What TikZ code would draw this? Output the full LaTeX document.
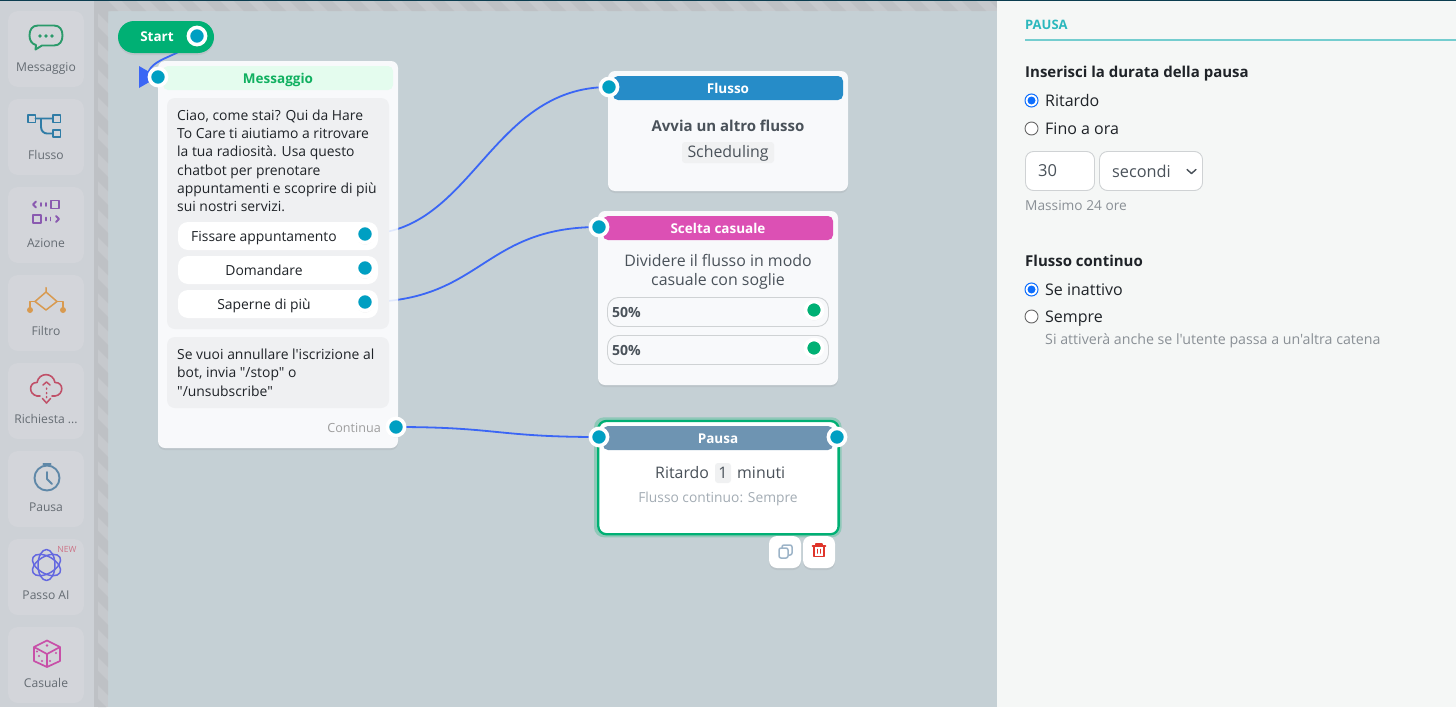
\documentclass[tikz,border=0pt]{standalone}
\usepackage{fontspec}
\setmainfont{Open Sans}[Ligatures=TeXOff]
\usetikzlibrary{shadows,calc}
\pgfdeclarelayer{bg}\pgfdeclarelayer{edges}\pgfdeclarelayer{cards}\pgfdeclarelayer{pale}
\pgfsetlayers{bg,edges,cards,pale,main}
\definecolor{canvas}{HTML}{C5D0D5}
\definecolor{side}{HTML}{CDD1D6}
\definecolor{sidebtn}{HTML}{D3D5DA}
\definecolor{stripeA}{HTML}{C6C9CD}
\definecolor{stripeB}{HTML}{BEC1C5}
\definecolor{panel}{HTML}{F5F7F6}
\definecolor{cardc}{HTML}{F8F9FB}
\definecolor{greyb}{HTML}{EFF0F2}
\definecolor{teal1}{HTML}{009FC2}
\definecolor{grn}{HTML}{00B074}
\definecolor{edgec}{HTML}{3B66F5}
\definecolor{palee}{HTML}{DFE7FC}
\definecolor{txt}{HTML}{1F2328}
\definecolor{txtb}{HTML}{4A525A}
\definecolor{mute}{HTML}{8A9096}
\definecolor{tagc}{HTML}{F0F1F2}
\definecolor{brd}{HTML}{CFD2D4}
\definecolor{radb}{HTML}{0D6EFD}
\definecolor{icgreen}{HTML}{2A9A6A}
\definecolor{icblue}{HTML}{2F7CA6}
\definecolor{icpurple}{HTML}{8A5AB0}
\definecolor{icorange}{HTML}{D89A50}
\definecolor{icred}{HTML}{C05068}
\definecolor{icclock}{HTML}{5F88A8}
\definecolor{icai}{HTML}{6468E0}
\definecolor{icpink}{HTML}{C850A8}
\definecolor{HTMLblue}{HTML}{268CC8}
\definecolor{HTMLpink}{HTML}{DC50B4}
\definecolor{HTMLslate}{HTML}{6E94B2}
\definecolor{mhdr}{HTML}{E4FCEE}
\definecolor{mtxt}{HTML}{10B060}
\definecolor{pausetxt}{HTML}{2BB8BD}
\definecolor{pauseline}{HTML}{74CDCF}
\definecolor{ptxt}{HTML}{A3ACB4}
\definecolor{trash}{HTML}{E0352B}
\definecolor{copyc}{HTML}{9DB4C8}
\definecolor{halo}{HTML}{8FC8B8}
\definecolor{topbar}{HTML}{0B3D50}
\newcommand\fsz[1]{\fontsize{#1}{#1}\selectfont}
% name, x1, y1, x2, y2, style
\newcommand\boxn[6]{\node[box,#6,minimum width={(#4-#2)*1pt},minimum height={(#5-#3)*1pt}] (#1) at ({(#2+#4)/2},{(#3+#5)/2}) {};}
\tikzset{
 box/.style={rectangle,inner sep=0,outer sep=0,line width=0},
 softshadow/.style={drop shadow={opacity=.14,shadow xshift=0pt,shadow yshift=-2pt,shadow scale=1.0}},
 port/.style={circle,inner sep=0,minimum size=17.2pt,fill=teal1,draw=white,line width=3.6pt},
 gport/.style={circle,inner sep=0,minimum size=17pt,fill=grn,draw=white,line width=3.6pt,softshadow},
 tx/.style={inner sep=0,anchor=base west,text=txt},
 tc/.style={inner sep=0,anchor=base,text=txt},
 conn/.style={draw=edgec,line width=1.8pt},
 palec/.style={draw=palee,line width=1.6pt},
 sbl/.style={inner sep=0,anchor=base,text=txtb!85!white,font=\fsz{12.1}},
 ic/.style={line width=1.9pt,line cap=round,line join=round,fill=none},
 rad/.style={circle,inner sep=0,minimum size=13pt,draw=black!60,fill=white,line width=.9pt},
 radon/.style={circle,inner sep=0,minimum size=13pt,draw=radb,fill=white,line width=1pt},
 raddot/.style={circle,inner sep=0,minimum size=8pt,fill=radb},
 hdr/.style={rounded corners=5pt},
 whead/.style={tc,text=white,font=\fsz{13.5}\bfseries},
 body/.style={font=\fsz{13.9}},
 card/.style={font=\fsz{15.9},text=txtb},
 panelt/.style={tx,font=\fsz{16}},
 panelh/.style={tx,font=\fsz{15}\bfseries},
}
\begin{document}
\begin{tikzpicture}[x=1pt,y=-1pt]
\useasboundingbox (0,0) rectangle (1456,707);
\begin{pgfonlayer}{bg}
\fill[side] (0,0) rectangle (94,707);
\fill[canvas] (94,0) rectangle (997,707);
\fill[stripeA] (94,0) rectangle (108,707);
\fill[stripeA] (94,0) rectangle (997,11);
\begin{scope}
\clip (98,0) rectangle (108,707) (108,0) rectangle (997,11);
\foreach \k in {0,1,...,32}{\draw[stripeB,line width=10pt] ({96+\k*28},-4) -- ({116+\k*28},16);}
\foreach \k in {0,1,...,26}{\draw[stripeB,line width=10pt] (92,{\k*28}) -- (114,{\k*28+22});}
\end{scope}
\fill[stripeB] (94,0) rectangle (98,707);
\fill[panel] (997,0) rectangle (1456,707);
\fill[topbar] (0,0) rectangle (1456,1.2);
% sidebar buttons
\foreach \n/\y in {a/11,b/99,c/187,d/275,e/363,f/451,g/539,h/627}{
 \boxn{btn\n}{8}{\y}{84}{\y+76}{fill=sidebtn,rounded corners=10pt}
}
\end{pgfonlayer}
% sidebar labels
\node[sbl] (la) at (46,71) {Messaggio};
\node[sbl] (lb) at (46,159) {Flusso};
\node[sbl] (lc) at (46,247) {Azione};
\node[sbl] (ld) at (46,335) {Filtro};
\node[sbl] (le) at (46,423) {Richiesta ...};
\node[sbl] (lf) at (46,511) {Pausa};
\node[sbl] (lg) at (46,599) {Passo AI};
\node[sbl] (lh) at (46,687) {Casuale};
\node[inner sep=0,anchor=base,text=icred!80!white,font=\fsz{8.5}] (lnew) at (67,552) {NEW};
% icons
\draw[ic,icgreen] (36,45) -- (35.5,49.5) -- (42,45.5) -- (54,45.5) .. controls (60,45.5) and (62.5,41) .. (62.5,35.5) .. controls (62.5,30) and (60,25.5) .. (54,25.5) -- (38,25.5) .. controls (32,25.5) and (29.5,30) .. (29.5,35.5) .. controls (29.5,40) and (31.5,44) .. (36,45);
\foreach \x in {40,46,52}{\fill[icgreen] (\x,36) circle (1.8);}
\draw[ic,icblue] (28,115) rectangle (35.5,122.5) (53,115) rectangle (60.5,122.5) (53,130) rectangle (60.5,137);
\draw[ic,icblue] (35.5,118.5) -- (53,118.5) (41,118.5) -- (41,127) .. controls (41,131) and (44,133.5) .. (47,133.5) -- (53,133.5);
\draw[ic,icpurple] (51,200.5) rectangle (59,208.5) (33,215) rectangle (41,223);
\draw[ic,icpurple] (36,201.5) -- (33,204.5) -- (36,207.5) (56,216) -- (59,219) -- (56,222);
\draw[ic,icpurple] (41,203) -- (41,206) (46,203) -- (46,206) (46,217.5) -- (46,220.5) (50.5,217.5) -- (50.5,220.5);
\draw[ic,icorange,line width=1.5pt] (46,287.5) -- (46,292) -- (35,301.5) -- (46,310) -- (57,301.5) -- (46,292);
\draw[ic,icorange,line width=1.5pt] (35,301.5) -- (30,301.5) -- (30,308) (57,301.5) -- (63,301.5) -- (63,308);
\fill[icorange] (30,310) circle (3) (63,310) circle (3);
\draw[ic,icred,line width=1.6pt] (40,396) -- (37,396) .. controls (28,394) and (29,382) .. (37,382.5) .. controls (39,372) and (53,372) .. (55,382.5) .. controls (64,382) and (64,395) .. (55,396) -- (52,396);
\draw[ic,icred,line width=1.5pt] (43,385) -- (46.5,382) -- (50,385) (42.5,398.5) -- (46.5,403) -- (50.5,398.5) (46.5,388) -- (46.5,389) (46.5,392.5) -- (46.5,393.5) (46.5,396.5) -- (46.5,397.5);
\draw[ic,icclock] (47,478) circle (12.5);
\draw[ic,icclock,line width=2.4pt] (43.5,464) -- (50.5,464);
\draw[ic,icclock] (47,472) -- (47,479) -- (52,484);
\foreach \a in {0,60,120}{\draw[ic,icai,line width=1.5pt,rotate around={\a+30:(46.5,565)}] (46.5,565) ellipse (15.5 and 8.5);}
\draw[ic,icpink,line width=1.7pt] (47,640.5) -- (60,647) -- (60,661) -- (47,667) -- (34,661) -- (34,647) -- cycle (34,647) -- (47,654) -- (60,647) (47,654) -- (47,667);
\fill[icpink] (47,645.5) circle (1.4) (39,656) circle (1.2) (42,661) circle (1.2) (37,651.5) circle (1.2) (50,661) circle (1.2) (56,653) circle (1.2);
% start pill
\boxn{startp}{118}{21}{214}{53}{fill=grn,rounded corners=16pt,softshadow}
\node[whead] (startt) at (157,41) {Start};
\node[port,softshadow] (ps) at (197,36) {};
% message card
\begin{pgfonlayer}{cards}
\boxn{mcard}{158}{61}{398}{448}{fill=cardc,rounded corners=7pt,softshadow}
\boxn{fcard}{608}{71}{848}{191}{fill=cardc,rounded corners=7pt,softshadow}
\boxn{scard}{598}{211}{838}{385}{fill=cardc,rounded corners=7pt,softshadow}
\boxn{phalo}{594}{417.3}{841.7}{537.3}{fill=halo,rounded corners=10pt}
\boxn{pcard}{598.3}{421}{838.6}{534.2}{fill=white,draw=grn,line width=2.3pt,rounded corners=8pt}
\end{pgfonlayer}
\boxn{mhead}{163}{66}{393}{90}{fill=mhdr,hdr}
\node[tc,text=mtxt,font=\fsz{13.5}\bfseries] (mt) at (278,83) {Messaggio};
\boxn{mg1}{167}{98}{389}{329}{fill=greyb,rounded corners=8pt}
\node[tx,body] (m1) at (177,120) {Ciao, come stai? Qui da Hare};
\node[tx,body] (m2) at (177,138) {To Care ti aiutiamo a ritrovare};
\node[tx,body] (m3) at (177,156) {la tua radiosità. Usa questo};
\node[tx,body] (m4) at (177,175) {chatbot per prenotare};
\node[tx,body] (m5) at (177,193) {appuntamenti e scoprire di più};
\node[tx,body] (m6) at (177,211) {sui nostri servizi.};
\boxn{b1}{178}{222}{378}{250}{fill=white,rounded corners=10pt}
\boxn{b2}{178}{256}{378}{284}{fill=white,rounded corners=10pt}
\boxn{b3}{178}{290}{378}{318}{fill=white,rounded corners=10pt}
\node[tc,body] (bt1) at (264,241) {Fissare appuntamento};
\node[tc,body] (bt2) at (264,275) {Domandare};
\node[tc,body] (bt3) at (264,309) {Saperne di più};
\node[port,softshadow] (p1) at (365,234) {};
\node[port,softshadow] (p2) at (365,268) {};
\node[port,softshadow] (p3) at (365,302) {};
\boxn{mg2}{167}{337}{389}{408}{fill=greyb,rounded corners=8pt}
\node[tx,body] (u1) at (177,359) {Se vuoi annullare l'iscrizione al};
\node[tx,body] (u2) at (177,377) {bot, invia "/stop" o};
\node[tx,body] (u3) at (177,396) {"/unsubscribe"};
\node[inner sep=0,anchor=base east,text=black!38,font=\fsz{12.6}] (cont) at (381,432) {Continua};
\node[port,softshadow] (pc) at (396,427) {};
\node[port] (pm) at (158,77) {};
% flusso
\boxn{fhead}{613}{76}{843}{100}{fill=HTMLblue,hdr}
\node[whead] (ft) at (728,93) {Flusso};
\node[tc,text=txtb,font=\fsz{15}\bfseries] (f1) at (728,131) {Avvia un altro flusso};
\boxn{ftag}{682}{142}{774}{163}{fill=tagc,rounded corners=3pt}
\node[tc,card] (f2) at (728,157) {Scheduling};
\node[port] (pf) at (609,87) {};
% scelta
\boxn{shead}{603}{216}{833}{240}{fill=HTMLpink,hdr}
\node[whead] (st) at (718,233) {Scelta casuale};
\node[tc,card] (s1) at (718,266) {Dividere il flusso in modo};
\node[tc,card] (s2) at (718,285) {casuale con soglie};
\boxn{sp1}{607.5}{297.5}{828.5}{326.5}{fill=cardc,draw=brd,line width=.9pt,rounded corners=11pt}
\boxn{sp2}{607.5}{335.5}{828.5}{364.5}{fill=cardc,draw=brd,line width=.9pt,rounded corners=11pt}
\node[tx,text=txtb,font=\fsz{14}\bfseries] (s50a) at (612,317) {50\%};
\node[tx,text=txtb,font=\fsz{14}\bfseries] (s50b) at (612,355) {50\%};
\node[gport] (g1) at (814,310) {};
\node[gport] (g2) at (814,348) {};
\node[port] (ps2) at (599,227) {};
% pausa
\boxn{phead}{603}{426}{833}{450}{fill=HTMLslate,hdr}
\node[whead] (pt) at (718,443) {Pausa};
\boxn{ptag}{715}{463}{731}{483}{fill=tagc,rounded corners=3pt}
\node[tx,card] (p1a) at (655,478) {Ritardo};
\node[tc,card] (p1b) at (723,478) {1};
\node[tx,card] (p1c) at (737,478) {minuti};
\node[tc,text=ptxt,font=\fsz{13.8}] (p2t) at (718,502) {Flusso continuo: Sempre};
\node[port] (pi) at (599,437) {};
\node[port] (po) at (837,437) {};
\boxn{bcopy}{769}{536}{801}{568}{fill=white,rounded corners=8pt,softshadow}
\boxn{btrash}{803}{536}{835}{568}{fill=white,rounded corners=8pt,softshadow}
\draw[line width=1.5pt,draw=copyc,rounded corners=2pt] (779,548) rectangle (788,558);
\draw[line width=1.5pt,draw=copyc,rounded corners=2pt] (782,548) -- (782,545) -- (792,545) -- (792,555) -- (788,555);
\draw[line width=1.6pt,draw=trash,line cap=round,line join=round] (812.5,546) -- (825.5,546) (816,546) -- (816,544) -- (822,544) -- (822,546) (814,546) -- (814,556.5) -- (824,556.5) -- (824,546) (817.5,549.5) -- (817.5,553) (820.5,549.5) -- (820.5,553);
% edges
\begin{pgfonlayer}{edges}
\draw[conn] (p1.center) .. controls (472,234) and (490,87) .. (pf.center);
\draw[conn] (p3.center) .. controls (482,302) and (482,227) .. (ps2.center);
\draw[conn] (pc.center) .. controls (497,427) and (497,437) .. (pi.center);
\draw[conn] (ps.center) .. controls (185,58) and (148,56) .. (pm.west);
\end{pgfonlayer}
\begin{pgfonlayer}{pale}
\begin{scope}
\clip (mcard.south west) rectangle (mcard.north east);
\draw[palec] (p1.center) .. controls (472,234) and (490,87) .. (pf.center);
\draw[palec] (p3.center) .. controls (482,302) and (482,227) .. (ps2.center);
\end{scope}
\end{pgfonlayer}
\coordinate (tipa) at ($(pm)+(-19,-11)$);
\coordinate (tipb) at ($(pm)+(-19,11)$);
\begin{pgfonlayer}{edges}
\fill[edgec] (tipa) -- (pm.center) -- (tipb) -- cycle;
\end{pgfonlayer}
% right panel
\node[tx,text=pausetxt,font=\fsz{13}\bfseries] (rt) at (1025,29) {PAUSA};
\coordinate (rl1) at (1025,40);
\coordinate (rl2) at (1456,40);
\draw[draw=pauseline,line width=1.5pt] (rl1) -- (rl2);
\node[panelh] (r1) at (1025,77) {Inserisci la durata della pausa};
\node[radon] (ra) at (1031.5,100.5) {};
\node[raddot] (rad) at (ra) {};
\node[panelt] (ra1) at (1045,106) {Ritardo};
\node[rad] (rb) at (1031.5,128.5) {};
\node[panelt] (rb1) at (1045,134) {Fino a ora};
\boxn{inp}{1025.5}{151.5}{1094.5}{190.5}{fill=white,draw=brd,line width=.9pt,rounded corners=8pt}
\node[tx,text=txtb,font=\fsz{16.5}] (i30) at (1038,176) {30};
\boxn{sel}{1099.5}{151.5}{1202.5}{190.5}{fill=white,draw=brd,line width=.9pt,rounded corners=8pt}
\node[tx,text=txtb,font=\fsz{16.3}] (isec) at (1112,177) {secondi};
\draw[line width=1.4pt,draw=txtb,line cap=round,line join=round] ($(sel.east)+(-15.5,-1.5)$) -- ($(sel.east)+(-11,2.5)$) -- ($(sel.east)+(-6.5,-1.5)$);
\node[tx,text=mute,font=\fsz{13.7}] (mx) at (1025,210) {Massimo 24 ore};
\node[panelh] (r2) at (1025,266) {Flusso continuo};
\node[radon] (rc) at (1031.5,289.5) {};
\node[raddot] (rcd) at (rc) {};
\node[panelt] (rc1) at (1045,295) {Se inattivo};
\node[rad] (rd) at (1031.5,316.5) {};
\node[panelt] (rd1) at (1045,322) {Sempre};
\node[tx,text=mute,font=\fsz{14.2}] (rd2) at (1045,344) {Si attiverà anche se l'utente passa a un'altra catena};
\end{tikzpicture}
\end{document}
